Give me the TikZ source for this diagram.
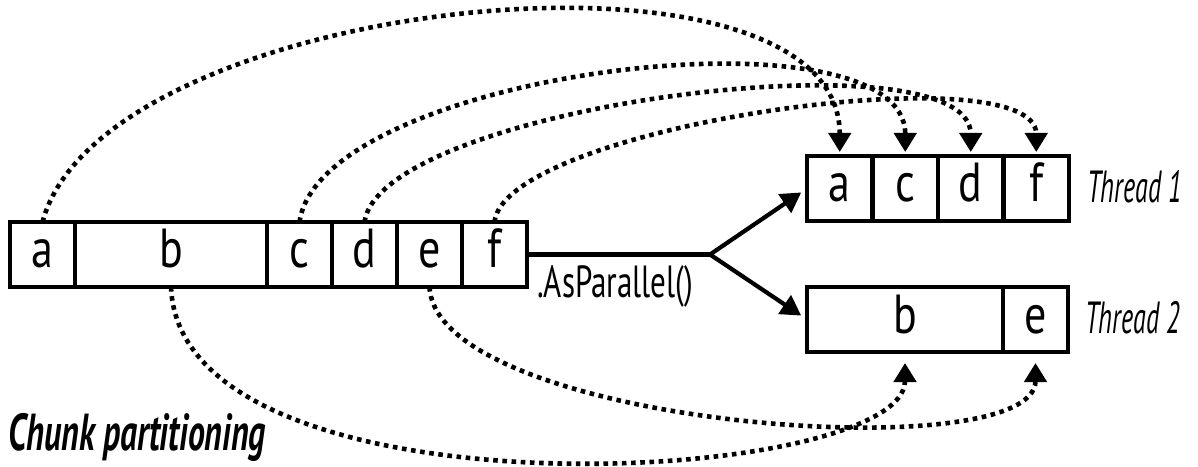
\documentclass[tikz,border=0pt]{standalone}
\usepackage{fontspec}
\setmainfont{PT Sans}
\newfontfamily\cellfont{PT Sans}[FakeStretch=0.8]
\newfontfamily\callfont{PT Sans}[FakeStretch=0.69]
\newfontfamily\threadfont{PT Sans}[FakeStretch=0.58]
\newfontfamily\titlefont{PT Sans}[FakeStretch=0.65]
\usetikzlibrary{arrows.meta, positioning}

\begin{document}
\begin{tikzpicture}[
  x=1pt, y=1pt,
  node distance=0pt,
  cell/.style={rectangle, draw, line width=4.2pt, outer sep=0pt, inner sep=0pt,
    minimum width=65pt, minimum height=65pt, text height=27pt, text depth=0pt,
    font=\cellfont\fontsize{55}{60}\selectfont},
  widecell/.style={cell, minimum width=#1},
  dotarrow/.style={line width=4.6pt, dash pattern=on 4.6pt off 4.6pt, -{Triangle[length=19pt,width=22pt]}},
  splitarrow/.style={line width=4.2pt, -{Triangle[length=20pt,width=22pt]}},
  tag/.style={anchor=base west, inner sep=0pt, font=\threadfont\itshape\fontsize{45}{50}\selectfont}
]
\useasboundingbox (0,0) rectangle (1198,466);

% Source array
\node[cell] (a) at (42.5,211.5) {a};
\node[widecell=192pt, right=of a] (b) {b};
\node[cell, right=of b] (c) {c};
\node[cell, right=of c] (d) {d};
\node[cell, right=of d] (e) {e};
\node[cell, right=of e] (f) {f};

% Thread 1
\node[widecell=65.5pt] (t1a) at (839.75,277.5) {a};
\node[widecell=65.5pt, right=of t1a] (t1c) {c};
\node[widecell=65.5pt, right=of t1c] (t1d) {d};
\node[widecell=65.5pt, right=of t1d] (t1f) {f};
\node[tag] (thread1) at ([xshift=18pt,yshift=-14.5pt]t1f.east) {Thread 1};

% Thread 2
\node[widecell=196pt] (t2b) at (905,146.5) {b};
\node[cell, right=of t2b] (t2e) {e};
\node[tag] (thread2) at ([xshift=17pt,yshift=-13.5pt]t2e.east) {Thread 2};

% Split
\coordinate (split) at ([xshift=183pt]f.east);
\node[anchor=base west, inner sep=0pt, font=\callfont\fontsize{45}{50}\selectfont] (call)
  at ([xshift=10pt,yshift=-11pt]f.south east) {.AsParallel()};
\draw[line width=4.2pt] (f.east) -- (split);
\draw[splitarrow, shorten >=7pt] (split) -- (t1a.west);
\draw[splitarrow, shorten >=7pt] (split) -- (t2b.west);

% Chunks to thread 1
\draw[dotarrow, shorten >=4pt] (a.north) .. controls +(60,226) and +(0,235) .. (t1a.north);
\draw[dotarrow, shorten >=4pt] (c.north) .. controls +(21,151) and +(0,155) .. (t1c.north);
\draw[dotarrow, shorten >=4pt] (d.north) .. controls +(16,116) and +(0,125) .. (t1d.north);
\draw[dotarrow, shorten >=4pt] (f.north) .. controls +(10,96) and +(0,105) .. (t1f.north);

% Chunks to thread 2
\draw[dotarrow, shorten >=11pt] (b.south) .. controls +(9,-239) and +(0,-134) .. (t2b.south);
\draw[dotarrow, shorten >=11pt] (e.south) .. controls +(7,-139) and +(0,-119) .. (t2e.south);

\node[anchor=base west, inner sep=0pt, font=\titlefont\bfseries\itshape\fontsize{52}{58}\selectfont] (title)
  at (8,16) {Chunk partitioning};
\end{tikzpicture}
\end{document}
